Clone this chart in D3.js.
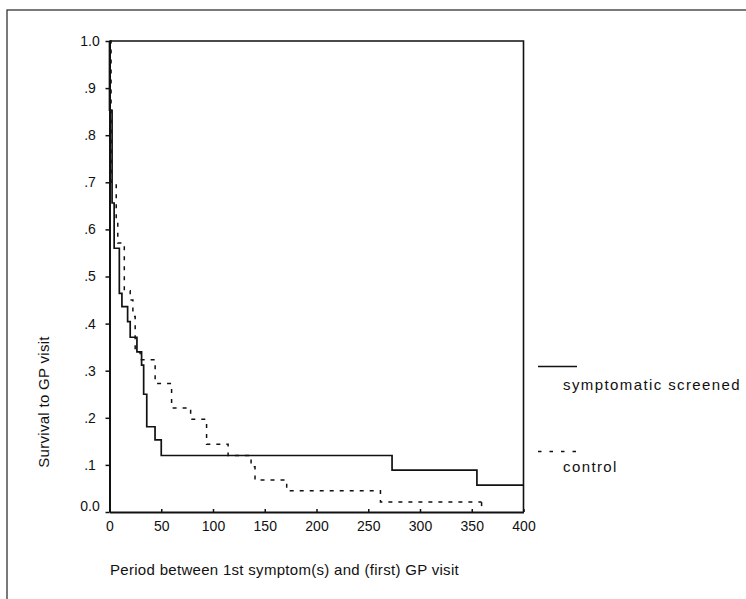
<!DOCTYPE html>
<html><head><meta charset="utf-8">
<script src="https://cdn.jsdelivr.net/npm/d3@7"></script>
<style>body{margin:0;background:#fff;} svg{display:block;} text{font-family:"Liberation Sans",Arial,sans-serif;fill:#111;}</style>
</head><body>
<svg id="c" width="746" height="599"></svg>
<script>
// Kaplan-Meier style step data (time in days, survival proportion)
const screenedTimes = [0, 2.5, 4.5, 9.5, 12, 17.5, 20, 26.5, 31, 33, 36, 44, 50, 273, 355];
const screenedSurv  = [0.853, 0.656, 0.56, 0.464, 0.436, 0.404, 0.371, 0.34, 0.312, 0.25, 0.181, 0.153, 0.12, 0.089, 0.057];
const screenedEnd = 400;

const controlTimes = [1.5, 6.5, 8, 14.3, 20, 22.6, 24.8, 29.6, 44.1, 60, 78.4, 93.8, 114.6, 136.8, 140.6, 171.2, 261.8];
const controlSurv  = [0.70, 0.62, 0.571, 0.47, 0.45, 0.415, 0.34, 0.323, 0.273, 0.221, 0.197, 0.144, 0.12, 0.096, 0.068, 0.045, 0.021];
const controlEnd = 359.5;

const xTicks = [0, 50, 100, 150, 200, 250, 300, 350, 400];
const yTicks = [0, 0.1, 0.2, 0.3, 0.4, 0.5, 0.6, 0.7, 0.8, 0.9, 1.0];
const yTickLabels = ["0.0", ".1", ".2", ".3", ".4", ".5", ".6", ".7", ".8", ".9", "1.0"];
const seriesNames = ["symptomatic screened", "control"];
const xTitle = "Period between 1st symptom(s) and (first) GP visit";
const yTitle = "Survival to GP visit";

const svg = d3.select("#c");
const x = d3.scaleLinear().domain([0, 400]).range([109.5, 523.5]);
const y = d3.scaleLinear().domain([0, 1]).range([512, 41]);

// outer frame
svg.append("rect").attr("x", 7).attr("y", 10).attr("width", 760).attr("height", 620)
  .attr("fill", "none").attr("stroke", "#333").attr("stroke-width", 1.3);

// plot frame top & right
svg.append("path").attr("d", `M${x(0)},${y(1)}H${x(400)}V${y(0)}`)
  .attr("fill", "none").attr("stroke", "#111").attr("stroke-width", 1.6);

// axes
const xAxis = d3.axisBottom(x).tickValues(xTicks).tickSizeInner(-3).tickSizeOuter(0).tickPadding(9);
const gx = svg.append("g").attr("transform", `translate(0,${y(0)})`).call(xAxis);
gx.select(".domain").attr("stroke", "#111").attr("stroke-width", 2);
gx.selectAll(".tick line").attr("stroke", "#111").attr("stroke-width", 1.5);
gx.selectAll(".tick text").attr("font-size", 14).attr("fill", "#111").attr("font-family", "Liberation Sans, Arial, sans-serif");

const yAxis = d3.axisLeft(y).tickValues(yTicks).tickFormat((d, i) => yTickLabels[i]).tickSizeInner(4).tickSizeOuter(0).tickPadding(0);
const gy = svg.append("g").attr("transform", `translate(${x(0)},0)`).call(yAxis);
gy.select(".domain").attr("stroke", "#111").attr("stroke-width", 2);
gy.selectAll(".tick line").attr("stroke", "#111").attr("stroke-width", 1.5);
gy.selectAll(".tick text").attr("font-size", 14).attr("fill", "#111").attr("text-anchor", "middle")
  .attr("x", 90 - x(0)).attr("font-family", "Liberation Sans, Arial, sans-serif");
gy.selectAll(".tick").filter(d => d === 0).select("text").attr("dy", "-0.1em");

function kmPoints(times, surv, end) {
  const pts = [[0, 1]];
  times.forEach((t, i) => pts.push([t, surv[i]]));
  pts.push([end, surv[surv.length - 1]]);
  return pts;
}
const line = d3.line().x(d => x(d[0])).y(d => y(d[1])).curve(d3.curveStepAfter);

svg.append("path").datum(kmPoints(controlTimes, controlSurv, controlEnd))
  .attr("d", line).attr("fill", "none").attr("stroke", "#111").attr("stroke-width", 1.5)
  .attr("stroke-dasharray", "4,6");
// censor tick at end of control
svg.append("line").attr("x1", x(controlEnd)).attr("x2", x(controlEnd))
  .attr("y1", y(controlSurv[controlSurv.length - 1])).attr("y2", y(controlSurv[controlSurv.length - 1]) + 4)
  .attr("stroke", "#111").attr("stroke-width", 1.5);

svg.append("path").datum(kmPoints(screenedTimes, screenedSurv, screenedEnd))
  .attr("d", line).attr("fill", "none").attr("stroke", "#111").attr("stroke-width", 1.7);

// legend
const leg = svg.append("g");
leg.append("line").attr("x1", 538).attr("x2", 577).attr("y1", 366.5).attr("y2", 366.5)
  .attr("stroke", "#111").attr("stroke-width", 1.7);
leg.append("text").attr("x", 563).attr("y", 390).attr("font-size", 15).attr("letter-spacing", 1.4).text(seriesNames[0]);
leg.append("line").attr("x1", 538).attr("x2", 577).attr("y1", 451.5).attr("y2", 451.5)
  .attr("stroke", "#111").attr("stroke-width", 1.5).attr("stroke-dasharray", "3.5,8");
leg.append("text").attr("x", 563).attr("y", 472).attr("font-size", 15).attr("letter-spacing", 1.4).text(seriesNames[1]);

// titles
svg.append("text").attr("x", 110).attr("y", 575).attr("font-size", 15).attr("letter-spacing", 0.3).text(xTitle);
svg.append("text").attr("transform", "translate(49,402) rotate(-90)").attr("text-anchor", "middle")
  .attr("font-size", 15).attr("letter-spacing", 0.3).text(yTitle);
</script>
</body></html>
